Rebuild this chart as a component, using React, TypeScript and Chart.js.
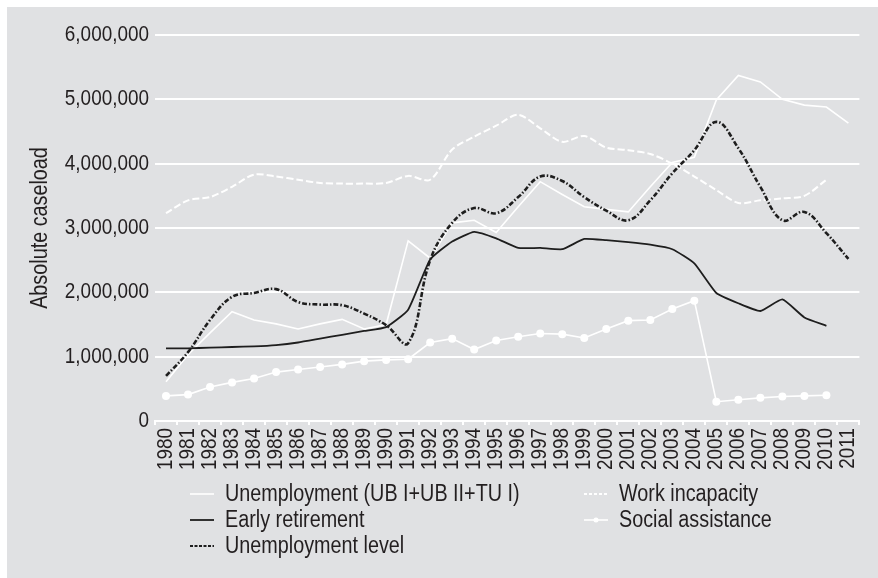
import { useEffect, useRef } from 'react';
import { Chart, registerables } from 'chart.js';

Chart.register(...registerables);

const years = [
  '1980', '1981', '1982', '1983', '1984', '1985', '1986', '1987', '1988', '1989',
  '1990', '1991', '1992', '1993', '1994', '1995', '1996', '1997', '1998', '1999',
  '2000', '2001', '2002', '2003', '2004', '2005', '2006', '2007', '2008', '2009',
  '2010', '2011',
];

const unemployment = [
  610000, 1030000, 1370000, 1700000, 1570000, 1510000, 1430000, 1510000, 1580000, 1430000,
  1500000, 2800000, 2530000, 3080000, 3120000, 2930000, 3330000, 3720000, 3520000, 3330000,
  3290000, 3250000, 3640000, 4020000, 4100000, 4990000, 5370000, 5270000, 5000000, 4910000,
  4880000, 4630000,
];

const workIncapacity = [
  3230000, 3430000, 3480000, 3640000, 3830000, 3800000, 3750000, 3700000, 3690000, 3690000,
  3700000, 3810000, 3750000, 4220000, 4420000, 4590000, 4760000, 4550000, 4340000, 4430000,
  4250000, 4210000, 4150000, 4000000, 3800000, 3590000, 3390000, 3430000, 3460000, 3500000,
  3750000, null,
];

const earlyRetirement = [
  1130000, 1130000, 1140000, 1150000, 1160000, 1180000, 1220000, 1280000, 1340000, 1400000,
  1460000, 1730000, 2510000, 2790000, 2940000, 2840000, 2690000, 2690000, 2670000, 2830000,
  2810000, 2780000, 2740000, 2670000, 2450000, 1990000, 1830000, 1710000, 1890000, 1610000,
  1480000, null,
];

const socialAssistance = [
  390000, 410000, 530000, 600000, 660000, 760000, 800000, 840000, 880000, 930000,
  950000, 960000, 1220000, 1280000, 1110000, 1250000, 1310000, 1360000, 1350000, 1290000,
  1430000, 1560000, 1570000, 1740000, 1870000, 300000, 330000, 360000, 380000, 390000,
  400000, null,
];

const unemploymentLevel = [
  700000, 1070000, 1570000, 1930000, 1990000, 2050000, 1850000, 1810000, 1800000, 1670000,
  1490000, 1210000, 2500000, 3080000, 3310000, 3230000, 3480000, 3800000, 3730000, 3480000,
  3270000, 3120000, 3430000, 3850000, 4210000, 4650000, 4240000, 3640000, 3120000, 3250000,
  2920000, 2520000,
];

const yTicks = [0, 1000000, 2000000, 3000000, 4000000, 5000000, 6000000];

const seriesNames = [
  'Unemployment (UB I+UB II+TU I)',
  'Work incapacity',
  'Early retirement',
  'Social assistance',
  'Unemployment level',
];

const FONT = "'Liberation Sans Narrow', 'Liberation Sans', Arial, sans-serif";
const TEXT_SQUEEZE = 0.86;
const TEXT = '#231f20';
const BG = '#e0e1e3';
const WHITE = '#ffffff';
const DARK = '#1e1e1e';

const legendLayout = [
  { ds: 0, col: 0, row: 0 },
  { ds: 1, col: 1, row: 0 },
  { ds: 2, col: 0, row: 1 },
  { ds: 3, col: 1, row: 1 },
  { ds: 4, col: 0, row: 2 },
];

const legendPlugin = {
  id: 'gridLegend',
  afterDraw(chart: any) {
    const { ctx, chartArea } = chart;
    const colX = [chartArea.left + 35, chartArea.left + 429];
    const rowY = [chartArea.bottom + 73, chartArea.bottom + 99, chartArea.bottom + 125];
    ctx.save();
    legendLayout.forEach((item) => {
      const ds = chart.data.datasets[item.ds];
      const x0 = colX[item.col];
      const y = rowY[item.row];
      ctx.beginPath();
      ctx.strokeStyle = ds.borderColor;
      ctx.lineWidth = Math.min(ds.borderWidth, 2);
      ctx.setLineDash(ds.legendDash || []);
      ctx.moveTo(x0, y);
      ctx.lineTo(x0 + 24, y);
      ctx.stroke();
      ctx.setLineDash([]);
      if (ds.pointRadius > 0) {
        ctx.beginPath();
        ctx.fillStyle = ds.pointBackgroundColor;
        ctx.arc(x0 + 12, y, 2.5, 0, Math.PI * 2);
        ctx.fill();
      }
      ctx.fillStyle = TEXT;
      ctx.font = `23px ${FONT}`;
      ctx.textBaseline = 'middle';
      ctx.textAlign = 'left';
      ctx.fillText(ds.label, x0 + 35, y + 1);
    });
    ctx.restore();
  },
};

export default function App() {
  const canvasRef = useRef<HTMLCanvasElement | null>(null);

  useEffect(() => {
    const canvas = canvasRef.current;
    if (!canvas) return;
    const ctx2d: any = canvas.getContext('2d');
    if (ctx2d && !ctx2d.__squeezed) {
      const origFill = ctx2d.fillText;
      ctx2d.fillText = function (text: string, x: number, y: number, maxWidth?: number) {
        this.save();
        this.translate(x, y);
        this.scale(TEXT_SQUEEZE, 1);
        if (maxWidth !== undefined) origFill.call(this, text, 0, 0, maxWidth / TEXT_SQUEEZE);
        else origFill.call(this, text, 0, 0);
        this.restore();
      };
      ctx2d.__squeezed = true;
    }
    const chart = new Chart(canvas, {
      type: 'line',
      data: {
        labels: years,
        datasets: [
          {
            label: seriesNames[0],
            data: unemployment,
            borderColor: WHITE,
            borderWidth: 1.6,
            pointRadius: 0,
            tension: 0,
            order: 2,
          },
          {
            label: seriesNames[1],
            data: workIncapacity,
            borderColor: WHITE,
            borderWidth: 2,
            borderDash: [7, 3],
            legendDash: [3, 2],
            pointRadius: 0,
            tension: 0.3,
            order: 3,
          },
          {
            label: seriesNames[2],
            data: earlyRetirement,
            borderColor: DARK,
            borderWidth: 1.8,
            pointRadius: 0,
            tension: 0.15,
            order: 1,
          },
          {
            label: seriesNames[3],
            data: socialAssistance,
            borderColor: WHITE,
            borderWidth: 1.6,
            pointRadius: 4,
            pointBackgroundColor: WHITE,
            pointBorderWidth: 0,
            tension: 0,
            order: 4,
          },
          {
            label: seriesNames[4],
            data: unemploymentLevel,
            borderColor: DARK,
            borderWidth: 2.6,
            borderDash: [5, 2, 1.5, 2],
            legendDash: [3, 1.5],
            pointRadius: 0,
            tension: 0.4,
            order: 0,
          },
        ] as any,
      },
      options: {
        responsive: false,
        animation: false,
        layout: { padding: { top: 28, right: 12, left: 0, bottom: 0 } },
        plugins: {
          legend: { display: false },
          tooltip: { enabled: false },
        },
        scales: {
          x: {
            offset: true,
            afterFit: (scale: any) => {
              scale.height = 157;
            },
            grid: {
              display: true,
              offset: true,
              drawOnChartArea: false,
              drawTicks: true,
              tickLength: 4,
              color: WHITE,
              lineWidth: 2,
            },
            border: { display: true, color: WHITE, width: 2 },
            ticks: {
              minRotation: 90,
              maxRotation: 90,
              autoSkip: false,
              padding: 3,
              color: TEXT,
              font: { family: FONT, size: 22 },
            },
          },
          y: {
            min: 0,
            max: 6000000,
            afterFit: (scale: any) => {
              scale.width = 148;
            },
            afterBuildTicks: (scale: any) => {
              scale.ticks = yTicks.map((v) => ({ value: v }));
            },
            grid: {
              color: WHITE,
              lineWidth: 2,
              drawTicks: false,
            },
            border: { display: false },
            ticks: {
              padding: 6,
              color: TEXT,
              font: { family: FONT, size: 22 },
              callback: (v: any) => Number(v).toLocaleString('en-US'),
            },
            title: {
              display: true,
              text: 'Absolute caseload',
              color: TEXT,
              font: { family: FONT, size: 23 },
              padding: { top: 20, bottom: 0 },
            },
          },
        },
      },
      plugins: [legendPlugin],
    });
    return () => chart.destroy();
  }, []);

  return (
    <div
      style={{
        position: 'absolute',
        left: 7,
        top: 7,
        width: 871,
        height: 571,
        background: BG,
      }}
    >
      <canvas ref={canvasRef} width={871} height={571} style={{ display: 'block' }} />
    </div>
  );
}
